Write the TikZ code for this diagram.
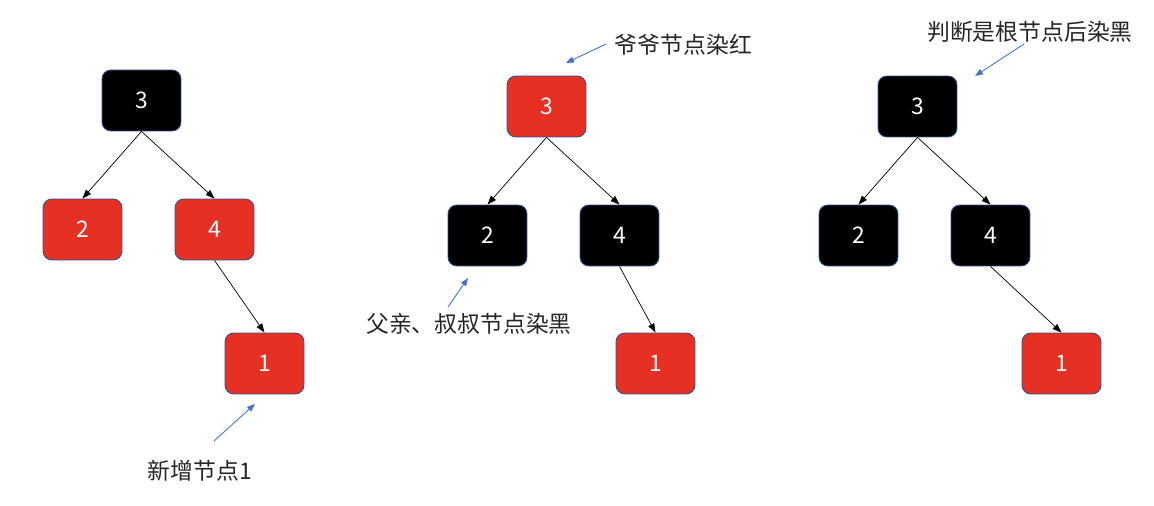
\documentclass[tikz,border=0pt]{standalone}
\usepackage{fontspec}
\setmainfont{Noto Sans CJK SC}
\usetikzlibrary{arrows.meta}
\definecolor{nodered}{RGB}{230,48,36}
\definecolor{rimblue}{RGB}{47,82,143}
\definecolor{noteblue}{RGB}{68,114,196}

\begin{document}
\begin{tikzpicture}[x=0.02cm, y=-0.02cm,
    rbnode/.style={draw=rimblue, line width=0.5pt, rounded corners=5pt,
        minimum width=1.58cm, minimum height=1.22cm, text=white,
        font=\fontsize{13}{15}\selectfont},
    rednode/.style={rbnode, fill=nodered},
    blacknode/.style={rbnode, fill=black},
    treeedge/.style={-{Triangle[length=1.8mm, width=1.3mm]}, line width=0.4pt},
    noteedge/.style={-{Triangle[length=1.6mm, width=1.2mm]}, noteblue, line width=0.5pt},
    note/.style={text=black!85, font=\fontsize{13}{15}\selectfont}]
    \useasboundingbox (0,0) rectangle (1154,506);

    \node[blacknode] (a3) at (141.5,100.5) {3};
    \node[rednode]   (a2) at (82.5,229.5)  {2};
    \node[rednode]   (a4) at (214.5,229.5) {4};
    \node[rednode]   (a1) at (264.5,363.5) {1};
    \node[note] (anote) at (200,471) {新增节点1};
    \coordinate (afrom) at (214,441);
    \coordinate (ato)   at (255,404);
    \draw[noteedge] (afrom) -- (ato);

    \node[rednode]   (b3) at (546.5,106.5) {3};
    \node[blacknode] (b2) at (487.5,235.5) {2};
    \node[blacknode] (b4) at (619.5,235.5) {4};
    \node[rednode]   (b1) at (655.5,363.5) {1};
    \node[note] (bnote) at (683.5,45) {爷爷节点染红};
    \coordinate (bfrom) at (606,44);
    \coordinate (bto)   at (566,63);
    \draw[noteedge] (bfrom) -- (bto);
    \node[note] (cnote) at (469,324) {父亲、叔叔节点染黑};
    \coordinate (cfrom) at (448,307);
    \coordinate (cto)   at (468,278);
    \draw[noteedge] (cfrom) -- (cto);

    \node[blacknode] (d3) at (917.5,106.5) {3};
    \node[blacknode] (d2) at (858.5,235.5) {2};
    \node[blacknode] (d4) at (990.5,235.5) {4};
    \node[rednode]   (d1) at (1061.5,363.5) {1};
    \node[note] (dnote) at (1030,32) {判断是根节点后染黑};
    \coordinate (dfrom) at (1024,44);
    \coordinate (dto)   at (975,76);
    \draw[noteedge] (dfrom) -- (dto);

    \foreach \t in {a,b,d} {
        \draw[treeedge] (\t3.south) -- (\t2.north);
        \draw[treeedge] (\t3.south) -- (\t4.north);
        \draw[treeedge] (\t4.south) -- (\t1.north);
    }
\end{tikzpicture}
\end{document}
